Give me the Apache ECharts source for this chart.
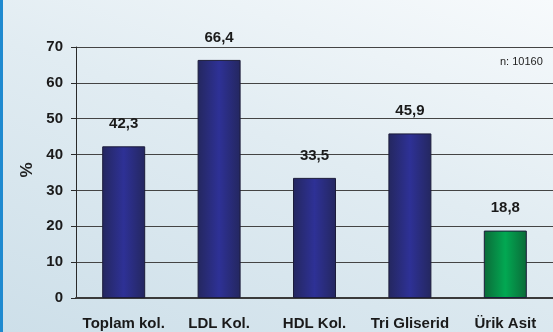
<!DOCTYPE html>
<html>
<head>
<meta charset="utf-8">
<script src="https://cdn.jsdelivr.net/npm/echarts@6/dist/echarts.min.js"></script>
<style>
  html, body { margin: 0; padding: 0; }
  body {
    width: 553px; height: 332px; overflow: hidden;
    background: linear-gradient(200deg, #f7fafc 0%, #e1ecf2 45%, #cddfe9 100%);
  }
  #frame {
    position: absolute; left: 0; top: 0; width: 553px; height: 332px;
    border-left: 3px solid #1f8ad0; box-sizing: border-box;
  }
  #chart { position: absolute; left: 0; top: 0; width: 553px; height: 332px; }
</style>
</head>
<body>
<div id="frame"></div>
<div id="chart"></div>
<script>
// Lipid and uric acid values, percent of subjects (n: 10160)
const categories = ['Toplam kol.', 'LDL Kol.', 'HDL Kol.', 'Tri Gliserid', 'Ürik Asit'];
const values = [42.3, 66.4, 33.5, 45.9, 18.8];
const sampleNote = 'n: 10160';
const axisTitle = '%';

const FONT = '"Liberation Sans", Arial, sans-serif';

function barFill(edge, mid) {
  return new echarts.graphic.LinearGradient(0, 0, 1, 0, [
    { offset: 0, color: edge },
    { offset: 0.5, color: mid },
    { offset: 1, color: edge }
  ]);
}
const blueFill = barFill('#24275f', '#2e3196');
const greenFill = barFill('#0b6a38', '#02a852');

const chart = echarts.init(document.getElementById('chart'), null, { renderer: 'canvas' });
chart.setOption({
  backgroundColor: 'transparent',
  animation: false,
  grid: { left: 76, right: 0, top: 47, bottom: 34, containLabel: false },
  graphic: [
    {
      type: 'text', left: 500, top: 56,
      style: { text: sampleNote, font: '11px ' + FONT, fill: '#222' }
    },
    {
      type: 'text', x: 27, y: 170, rotation: Math.PI / 2,
      style: { text: axisTitle, font: 'bold 17px ' + FONT, fill: '#222', align: 'center', verticalAlign: 'middle' }
    }
  ],
  xAxis: {
    type: 'category',
    data: categories,
    axisLine: { show: true, lineStyle: { color: '#3a3a3a', width: 2 } },
    axisTick: { show: false },
    axisLabel: { interval: 0, color: '#1a1a1a', fontFamily: FONT, fontWeight: 'bold', fontSize: 15, margin: 18 }
  },
  yAxis: {
    type: 'value',
    min: 0, max: 70, interval: 10,
    axisLine: { show: true, lineStyle: { color: '#2a2a2a', width: 1 } },
    axisTick: { show: true, length: 5, lineStyle: { color: '#2a2a2a' } },
    splitLine: { show: true, lineStyle: { color: '#444', width: 1 } },
    axisLabel: { color: '#1a1a1a', fontFamily: FONT, fontWeight: 'bold', fontSize: 15, margin: 13 }
  },
  series: [{
    type: 'bar',
    barWidth: 43,
    data: values.map((v, i) => ({
      value: v,
      itemStyle: { color: i === values.length - 1 ? greenFill : blueFill }
    })),
    itemStyle: { borderColor: '#1c1c3a', borderWidth: 1 },
    label: {
      show: true, position: 'top', distance: 15,
      formatter: p => String(p.value).replace('.', ','),
      color: '#1a1a1a', fontFamily: FONT, fontWeight: 'bold', fontSize: 15
    }
  }]
});
</script>
</body>
</html>
